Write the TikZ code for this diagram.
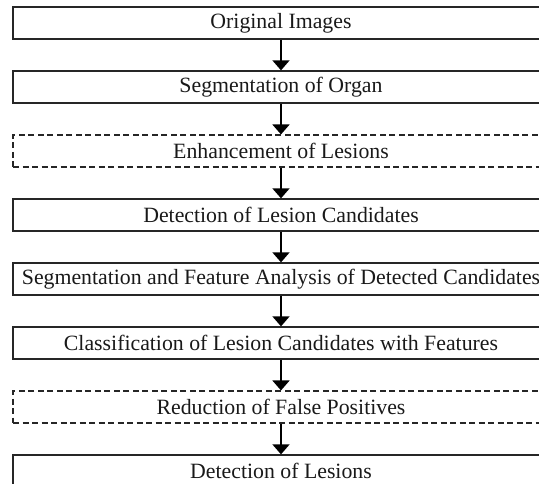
\documentclass[tikz,border=0pt]{standalone}
\usepackage{fontspec}
\setmainfont{Liberation Serif}
\usetikzlibrary{arrows.meta}
\begin{document}
\begin{tikzpicture}[x=1pt,y=-1pt,
  stage/.style={draw=black!85, line width=1.3pt, rectangle, minimum width=536pt,
    minimum height=32pt, inner sep=0pt, font=\fontsize{21.8}{24}\selectfont, text=black!90},
  optstage/.style={stage, dash pattern=on 6pt off 3.5pt, line width=1.1pt},
  flow/.style={line width=1.8pt, -{Triangle[width=17pt,length=10pt]}}]
  \useasboundingbox (0,0) rectangle (539,484);
  \clip (0,0) rectangle (539,484);
  \node[stage]    (s1) at (281,23)  {Original Images};
  \node[stage]    (s2) at (281,87)  {Segmentation of Organ};
  \node[optstage] (s3) at (281,151) {Enhancement of Lesions};
  \node[stage]    (s4) at (281,215) {Detection of Lesion Candidates};
  \node[stage]    (s5) at (281,279) {Segmentation and Feature Analysis of Detected Candidates};
  \node[stage]    (s6) at (281,343) {Classification of Lesion Candidates with Features};
  \node[optstage] (s7) at (281,407) {Reduction of False Positives};
  \node[stage]    (s8) at (281,471) {Detection of Lesions};
  \foreach \a/\b in {s1/s2,s2/s3,s3/s4,s4/s5,s5/s6,s6/s7,s7/s8}
    \draw[flow] (\a.south) -- (\b.north);
\end{tikzpicture}
\end{document}
